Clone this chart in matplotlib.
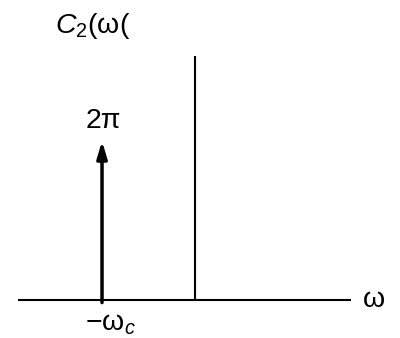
import numpy as np
import matplotlib
matplotlib.use("Agg")
import matplotlib.pyplot as plt

plt.rcParams["font.family"] = ["Liberation Sans", "DejaVu Sans"]
plt.rcParams["mathtext.fontset"] = "custom"
plt.rcParams["mathtext.rm"] = "Liberation Sans"
plt.rcParams["mathtext.it"] = "Liberation Sans:italic"

# spectrum: one impulse at -omega_c with weight 2*pi
omega_c = 1.0
impulse_pos = [-omega_c]
impulse_height = [2 * np.pi]
impulse_label = ["2π"]
pos_labels = ["−ω$_{c}$"]

# axis extents (data units)
x_axis = (-1.903, 1.677)
y_axis_top = 9.64

fig = plt.figure(figsize=(4.0, 3.38), dpi=100)
ax = fig.add_axes([0, 0, 1, 1])
ax.set_xlim(-2.097, 2.204)
ax.set_ylim(-1.50, 11.86)
ax.axis("off")

ax.plot(x_axis, [0, 0], color="black", lw=1.5, solid_capstyle="butt")
ax.plot([0, 0], [0, y_axis_top], color="black", lw=1.5, solid_capstyle="butt")

for x, h, lab, plab in zip(impulse_pos, impulse_height, impulse_label, pos_labels):
    ax.annotate("", xy=(x, h), xytext=(x, -0.1),
                arrowprops=dict(arrowstyle="-|>,head_length=0.5,head_width=0.15",
                                mutation_scale=20, lw=2.5, color="black",
                                shrinkA=0, shrinkB=0))
    ax.annotate(lab, xy=(x, h), xytext=(1, 9.5), textcoords="offset points",
                ha="center", va="baseline", fontsize=20.5)
    ax.annotate(plab, xy=(x, 0), xytext=(-12.5, -8), textcoords="offset points",
                ha="left", va="top", fontsize=20.5)

ax.annotate("ω", xy=(x_axis[1], 0), xytext=(8.5, 0), textcoords="offset points",
            ha="left", va="center", fontsize=20.5)

fig.text(55 / 400, 1 - 33 / 338, "$C_{2}$(ω(", fontsize=20.5, ha="left", va="baseline")

fig.savefig("out.png", dpi=100)
